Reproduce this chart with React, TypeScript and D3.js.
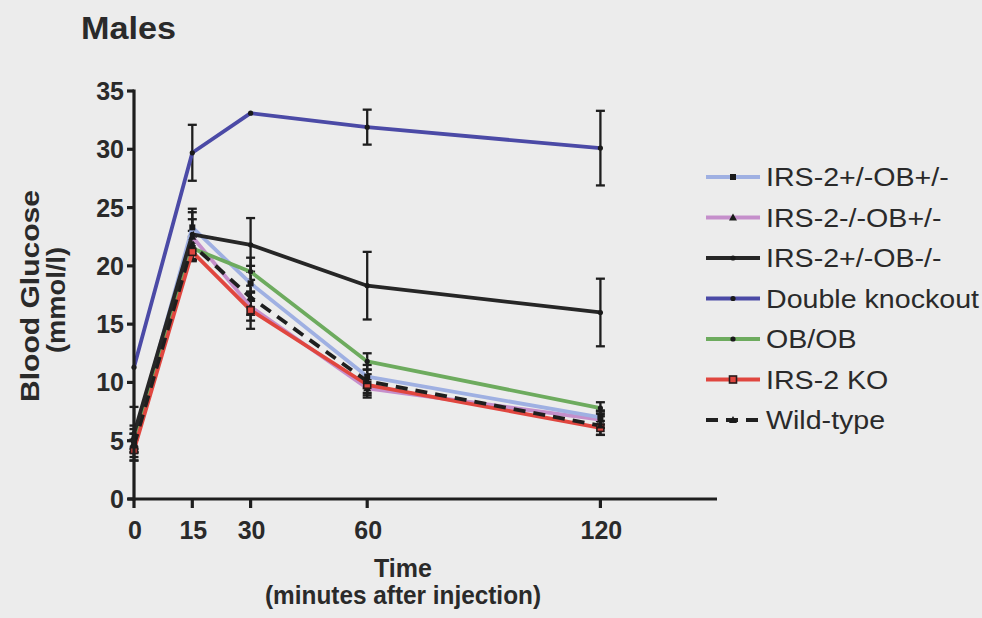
import React from "react";
import * as d3 from "d3";

// Sampling times (minutes after injection)
const times = [0, 15, 30, 60, 120];
const xTicks = [0, 15, 30, 60, 120];
const yTicks = [0, 5, 10, 15, 20, 25, 30, 35];

// Blood glucose means (mmol/l) and SEM per group
const irs2HetObHet = [5.0, 23.3, 18.5, 10.5, 7.0];
const irs2HetObHetErr = [1.0, 1.3, 1.5, 1.0, 0.6];
const irs2KoObHet = [4.8, 22.5, 16.5, 9.5, 6.8];
const irs2KoObHetErr = [0.8, 1.5, 1.2, 0.8, 0.7];
const irs2HetObKo = [5.6, 22.7, 21.8, 18.3, 16.0];
const irs2HetObKoErr = [2.3, 2.2, 2.3, 2.9, 2.9];
const doubleKo = [11.3, 29.7, 33.1, 31.9, 30.1];
const doubleKoErr = [0, 2.4, 0, 1.5, 3.2];
const obOb = [5.3, 21.5, 19.5, 11.8, 7.8];
const obObErr = [1.0, 1.0, 1.2, 0.7, 0.5];
const irs2Ko = [4.2, 21.2, 16.2, 9.8, 6.1];
const irs2KoErr = [0.9, 0.8, 1.6, 0.9, 0.6];
const wildType = [4.6, 21.8, 17.3, 10.1, 6.3];
const wildTypeErr = [1.0, 1.2, 1.5, 1.0, 0.8];

type Marker = "square" | "triangle" | "dot" | "hollowSquare";

interface Series {
  name: string;
  values: number[];
  errors: number[];
  color: string;
  marker: Marker;
  dashed?: boolean;
}

const series: Series[] = [
  { name: "IRS-2+/-OB+/-", values: irs2HetObHet, errors: irs2HetObHetErr, color: "#9fb0e2", marker: "square" },
  { name: "IRS-2-/-OB+/-", values: irs2KoObHet, errors: irs2KoObHetErr, color: "#c58fcb", marker: "triangle" },
  { name: "IRS-2+/-OB-/-", values: irs2HetObKo, errors: irs2HetObKoErr, color: "#262626", marker: "dot" },
  { name: "Double knockout", values: doubleKo, errors: doubleKoErr, color: "#4b4aa6", marker: "dot" },
  { name: "OB/OB", values: obOb, errors: obObErr, color: "#6dab5e", marker: "dot" },
  { name: "IRS-2 KO", values: irs2Ko, errors: irs2KoErr, color: "#e0463f", marker: "hollowSquare" },
  { name: "Wild-type", values: wildType, errors: wildTypeErr, color: "#1f1f1f", marker: "triangle", dashed: true },
];

// Painting order of the lines (back to front)
const drawOrder = ["IRS-2-/-OB+/-", "IRS-2+/-OB+/-", "OB/OB", "IRS-2 KO", "Wild-type", "IRS-2+/-OB-/-", "Double knockout"];

const W = 982;
const H = 618;
const FONT = "'Liberation Sans', Arial, Helvetica, sans-serif";
const INK = "#2a2a2a";

const x = d3.scaleLinear().domain([0, 150]).range([134, 717]);
const y = d3.scaleLinear().domain([0, 35]).range([499, 91]);

function MarkerShape({ kind, cx, cy, fill }: { kind: Marker; cx: number; cy: number; fill: string }) {
  if (kind === "square") return <rect x={cx - 3} y={cy - 3} width={6} height={6} fill="#1a1a1a" />;
  if (kind === "hollowSquare")
    return <rect x={cx - 3.5} y={cy - 3.5} width={7} height={7} fill={fill} stroke="#2a1a1a" strokeWidth={1.6} />;
  if (kind === "triangle") {
    const p = d3.path();
    p.moveTo(cx, cy - 4);
    p.lineTo(cx + 4, cy + 3);
    p.lineTo(cx - 4, cy + 3);
    p.closePath();
    return <path d={p.toString()} fill="#1a1a1a" />;
  }
  return <circle cx={cx} cy={cy} r={2.6} fill="#1a1a1a" />;
}

export default function App() {
  const line = d3
    .line<number>()
    .x((_, i) => x(times[i]))
    .y((v) => y(v));

  const ordered = drawOrder.map((n) => series.find((s) => s.name === n)!);

  const legendTop = 177;
  const legendStep = 40.5;

  return (
    <div style={{ position: "fixed", left: 0, top: 0, width: W, height: H }}>
      <svg width={W} height={H} style={{ display: "block", fontFamily: FONT }}>
        <rect width={W} height={H} fill="#ececec" />

        {/* Title */}
        <text x={81} y={39} fontSize={31} fontWeight="bold" fill={INK} textLength={95} lengthAdjust="spacingAndGlyphs">
          Males
        </text>

        {/* Error bars */}
        <g stroke="#1e1e1e" strokeWidth={2.3} fill="none">
          {series.map((s) =>
            s.values.map((v, i) => {
              const e = s.errors[i];
              if (!e) return null;
              const cx = x(times[i]);
              const y1 = y(v + e);
              const y2 = y(v - e);
              return (
                <g key={s.name + i}>
                  <line x1={cx} x2={cx} y1={y1} y2={y2} />
                  <line x1={cx - 4.5} x2={cx + 4.5} y1={y1} y2={y1} />
                  <line x1={cx - 4.5} x2={cx + 4.5} y1={y2} y2={y2} />
                </g>
              );
            })
          )}
        </g>

        {/* Lines */}
        <g fill="none" strokeLinejoin="round">
          {ordered.map((s) => (
            <path
              key={s.name}
              d={line(s.values) || ""}
              stroke={s.color}
              strokeWidth={3.8}
              strokeDasharray={s.dashed ? "12 8" : undefined}
            />
          ))}
        </g>

        {/* Markers */}
        <g>
          {ordered.map((s) =>
            s.values.map((v, i) => (
              <MarkerShape key={s.name + i} kind={s.marker} cx={x(times[i])} cy={y(v)} fill={s.color} />
            ))
          )}
        </g>

        {/* Axes */}
        <g stroke="#1e1e1e" strokeWidth={3.2} fill="none">
          <line x1={x(0)} x2={x(0)} y1={y(35) - 1.6} y2={y(0) + 1.6} />
          <line x1={x(0) - 6} x2={x(150)} y1={y(0)} y2={y(0)} />
          {yTicks.map((t) => (
            <line key={"yt" + t} x1={x(0) - 7} x2={x(0)} y1={y(t)} y2={y(t)} />
          ))}
          {xTicks.map((t) => (
            <line key={"xt" + t} x1={x(t)} x2={x(t)} y1={y(0)} y2={y(0) + 9} />
          ))}
        </g>

        {/* Tick labels */}
        <g fontSize={25} fontWeight="bold" fill={INK}>
          {yTicks.map((t) => (
            <text key={"yl" + t} x={x(0) - 10} y={y(t)} dy="0.36em" textAnchor="end">
              {t}
            </text>
          ))}
          {xTicks.map((t) => (
            <text key={"xl" + t} x={x(t) + 1} y={539} textAnchor="middle">
              {t}
            </text>
          ))}
        </g>

        {/* Axis titles */}
        <g fontSize={25} fontWeight="bold" fill={INK} textAnchor="middle">
          <text x={403} y={577}>Time</text>
          <text x={403} y={604} textLength={276} lengthAdjust="spacingAndGlyphs">
            (minutes after injection)
          </text>
          <text transform="translate(39,296) rotate(-90)" textLength={212} lengthAdjust="spacingAndGlyphs">
            Blood Glucose
          </text>
          <text transform="translate(65,300) rotate(-90)" textLength={106} lengthAdjust="spacingAndGlyphs">
            (mmol/l)
          </text>
        </g>

        {/* Legend */}
        <g>
          {series.map((s, i) => {
            const ly = legendTop + i * legendStep;
            return (
              <g key={"lg" + s.name}>
                <line
                  x1={706}
                  x2={760}
                  y1={ly}
                  y2={ly}
                  stroke={s.color}
                  strokeWidth={3.8}
                  strokeDasharray={s.dashed ? "12 8" : undefined}
                />
                <MarkerShape kind={s.marker} cx={733} cy={ly} fill={s.color} />
                <text
                  transform={`translate(766,${ly}) scale(1.1,1)`}
                  dy="0.36em"
                  fontSize={26}
                  fill={INK}
                >
                  {s.name}
                </text>
              </g>
            );
          })}
        </g>
      </svg>
    </div>
  );
}
